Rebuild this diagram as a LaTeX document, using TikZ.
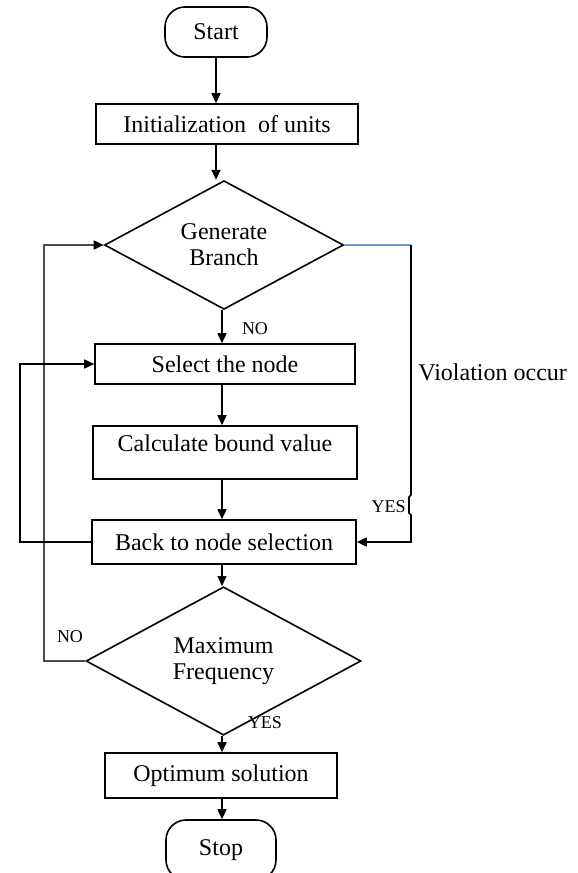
\documentclass[tikz,border=0pt]{standalone}
\usepackage{fontspec}
\setmainfont{Liberation Serif}
\usetikzlibrary{shapes.geometric,arrows.meta}
\definecolor{blueline}{HTML}{6F9AD6}
\begin{document}
\begin{tikzpicture}[x=0.5pt,y=-0.5pt,
  every node/.style={font=\fontsize{12}{13}\selectfont},
  box/.style={draw, line width=0.8pt, inner sep=0pt, align=center},
  term/.style={box, rounded corners=10pt},
  dec/.style={diamond, draw, line width=0.8pt, inner sep=0pt, align=center},
  conn/.style={line width=0.8pt},
  arr/.style={conn, -{Triangle[length=5pt,width=4.5pt,color=black]}},
  lab/.style={font=\fontsize{9}{10}\selectfont, inner sep=0pt},
]
\useasboundingbox (0,0) rectangle (578,873);

% nodes
\node[term, minimum width=51pt, minimum height=25pt] (start) at (216,32) {Start};
\node[box, minimum width=131pt, minimum height=20pt] (init) at (227,124) {Initialization\ \ of units};
\node[dec, minimum width=119.5pt, minimum height=63.5pt] (d1) at (224,245) {Generate\\Branch};
\node[box, minimum width=130pt, minimum height=20pt] (sel) at (225,364) {Select the node};
\node[box, minimum width=132pt, minimum height=26.5pt] (calc) at (225,452.5) {};
\node (calct) at (225,443) {Calculate bound value};
\node[box, minimum width=132pt, minimum height=22pt] (back) at (224,542) {Back to node selection};
\node[dec, minimum width=137.5pt, minimum height=64.5pt] (d2) at (223.5,661) {Maximum\\Frequency};
\node[box, minimum width=116pt, minimum height=22.5pt] (opt) at (221,775.5) {Optimum solution};
\node[term, minimum width=55pt, minimum height=30pt] (stop) at (221,850) {Stop};

% helper coordinates
\coordinate (col) at (222,0);
\coordinate (ol) at (44,0);
\coordinate (il) at (20,0);
\coordinate (rl) at (411,0);
\coordinate (j1) at (411,495);
\coordinate (j2) at (409,497);
\coordinate (j3) at (409,513);
\coordinate (j4) at (411,515);

% main flow
\draw[arr] (start.south) -- (start.south |- init.north);
\draw[arr] (start.south |- init.south) -- (start.south |- d1.north);
\draw[arr] (d1.south -| col) -- (sel.north -| col);
\draw[arr] (sel.south -| col) -- (calc.north -| col);
\draw[arr] (calc.south -| col) -- (back.north -| col);
\draw[arr] (back.south -| col) -- (d2.north -| col);
\draw[arr] (d2.south -| col) -- (opt.north -| col);
\draw[arr] (opt.south -| col) -- (stop.north -| col);

% loops
\draw[arr, draw=black!70] (d2.west) -- (d2.west -| ol) -- (d1.west -| ol) -- (d1.west);
\draw[arr] (back.west) -- (back.west -| il) -- (sel.west -| il) -- (sel.west);
\draw[conn, draw=blueline] (d1.east) -- (d1.east -| rl);
\draw[arr] (d1.east -| rl) -- (j1) -- (j2) -- (j3) -- (j4) -- (back.east -| rl) -- (back.east);

% labels
\node[lab] (no1) at (255,329) {NO};
\node[lab, anchor=east] (yes1) at (406,507) {YES};
\node[lab] (yes2) at (265,723) {YES};
\node[lab] (no2) at (70,637) {NO};
\node[anchor=west, inner sep=0pt] (viol) at (418,372) {Violation occur};
\end{tikzpicture}
\end{document}
